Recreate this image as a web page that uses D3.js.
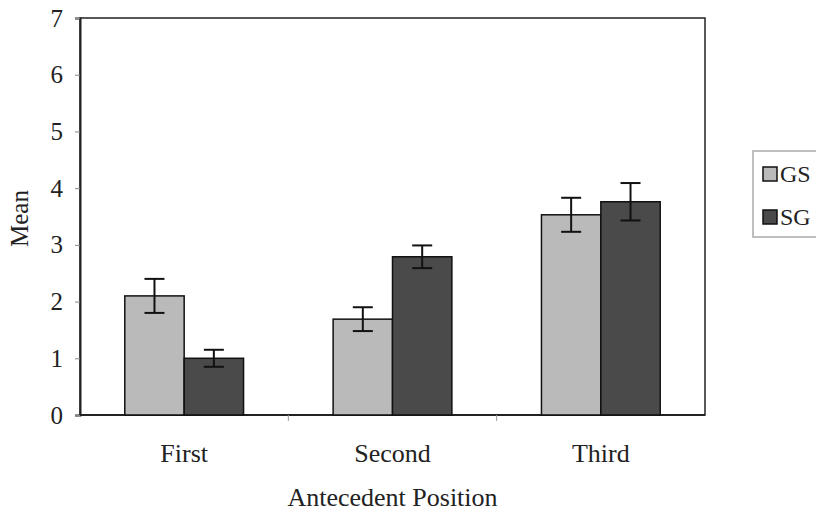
<!DOCTYPE html>
<html>
<head>
<meta charset="utf-8">
<script src="https://cdn.jsdelivr.net/npm/d3@7"></script>
<style>
  body { margin: 0; background: #fff; }
  text { font-family: "Liberation Serif", "DejaVu Serif", serif; fill: #222; }
</style>
</head>
<body>
<div id="vizcont"></div>
<script>
// chart data
var categories = ["First", "Second", "Third"];
var seriesNames = ["GS", "SG"];
var gsMeans = [2.1, 1.69, 3.53];
var gsErr = [0.3, 0.21, 0.3];
var sgMeans = [1.0, 2.79, 3.76];
var sgErr = [0.15, 0.2, 0.33];
var yTicks = [0, 1, 2, 3, 4, 5, 6, 7];
var colors = ["#bababa", "#4a4a4a"];

function draw_bars() {
  var W = 816, H = 515;
  var margin = {top: 18, right: 111, bottom: 100, left: 80};
  var width = W - margin.left - margin.right;
  var height = H - margin.top - margin.bottom;

  var svg = d3.select("#vizcont")
    .append("svg")
    .attr("width", W)
    .attr("height", H);

  var g = svg.append("g")
    .attr("transform", "translate(" + margin.left + "," + margin.top + ")");

  // rows for the grouped bars
  var rows = categories.map(function(c, i) {
    return {cat: c, vals: [
      {s: "GS", v: gsMeans[i], e: gsErr[i]},
      {s: "SG", v: sgMeans[i], e: sgErr[i]}
    ]};
  });

  var x = d3.scaleBand().domain(categories).range([0, width])
    .paddingInner(0.43).paddingOuter(0.215);
  var xs = d3.scaleBand().domain(seriesNames).range([0, x.bandwidth()]);
  var y = d3.scaleLinear().domain([0, 7]).range([height, 0]);
  var color = d3.scaleOrdinal().domain(seriesNames).range(colors);

  // plot frame
  g.append("rect")
    .attr("x", 0).attr("y", 0)
    .attr("width", width).attr("height", height)
    .attr("fill", "none").attr("stroke", "#222").attr("stroke-width", 1.5);

  // y axis
  var yAxis = g.append("g")
    .call(d3.axisLeft(y).tickValues(yTicks).tickSize(5).tickPadding(12).tickFormat(d3.format("d")));
  yAxis.select(".domain").attr("stroke", "#222").attr("stroke-width", 2);
  yAxis.selectAll(".tick line").attr("stroke", "#888");
  yAxis.selectAll("text").style("font-size", "25px").style("font-family", "Liberation Serif");

  // x axis: ticks between categories
  var xAxis = g.append("g").attr("transform", "translate(0," + height + ")");
  xAxis.append("line").attr("x1", 0).attr("x2", width)
    .attr("stroke", "#222").attr("stroke-width", 2);
  var bounds = [x.step() , x.step() * 2];
  xAxis.selectAll("line.sep").data(bounds).enter().append("line")
    .attr("class", "sep")
    .attr("x1", function(d) { return d; }).attr("x2", function(d) { return d; })
    .attr("y1", 0).attr("y2", 6).attr("stroke", "#999");
  xAxis.selectAll("text.cat").data(categories).enter().append("text")
    .attr("class", "cat")
    .attr("x", function(d) { return x(d) + x.bandwidth() / 2; })
    .attr("y", 47)
    .attr("text-anchor", "middle")
    .style("font-size", "26px")
    .text(function(d) { return d; });

  // bars
  var groups = g.selectAll("g.grp").data(rows).enter().append("g")
    .attr("class", "grp")
    .attr("transform", function(d) { return "translate(" + x(d.cat) + ",0)"; });

  groups.selectAll("rect").data(function(d) { return d.vals; }).enter().append("rect")
    .attr("x", function(d) { return xs(d.s); })
    .attr("y", function(d) { return y(d.v); })
    .attr("width", xs.bandwidth())
    .attr("height", function(d) { return height - y(d.v); })
    .attr("fill", function(d) { return color(d.s); })
    .attr("stroke", "#111").attr("stroke-width", 1.5);

  // error bars
  var capW = 10;
  var eb = groups.selectAll("g.err").data(function(d) { return d.vals; }).enter().append("g")
    .attr("class", "err")
    .attr("stroke", "#111").attr("stroke-width", 2);
  eb.append("line")
    .attr("x1", function(d) { return xs(d.s) + xs.bandwidth() / 2; })
    .attr("x2", function(d) { return xs(d.s) + xs.bandwidth() / 2; })
    .attr("y1", function(d) { return y(d.v + d.e); })
    .attr("y2", function(d) { return y(d.v - d.e); });
  eb.append("line")
    .attr("x1", function(d) { return xs(d.s) + xs.bandwidth() / 2 - capW; })
    .attr("x2", function(d) { return xs(d.s) + xs.bandwidth() / 2 + capW; })
    .attr("y1", function(d) { return y(d.v + d.e); })
    .attr("y2", function(d) { return y(d.v + d.e); });
  eb.append("line")
    .attr("x1", function(d) { return xs(d.s) + xs.bandwidth() / 2 - capW; })
    .attr("x2", function(d) { return xs(d.s) + xs.bandwidth() / 2 + capW; })
    .attr("y1", function(d) { return y(d.v - d.e); })
    .attr("y2", function(d) { return y(d.v - d.e); });

  // axis titles
  svg.append("text")
    .attr("transform", "translate(28," + (margin.top + height / 2 + 2) + ") rotate(-90)")
    .attr("text-anchor", "middle")
    .style("font-size", "25px")
    .text("Mean");
  svg.append("text")
    .attr("x", margin.left + width / 2)
    .attr("y", 506)
    .attr("text-anchor", "middle")
    .style("font-size", "26px")
    .text("Antecedent Position");

  // legend
  var lg = svg.append("g").attr("transform", "translate(753,151)");
  lg.append("rect").attr("width", 80).attr("height", 86)
    .attr("fill", "#fff").attr("stroke", "#aaa").attr("stroke-width", 1.5);
  var li = lg.selectAll("g.li").data(seriesNames).enter().append("g")
    .attr("class", "li")
    .attr("transform", function(d, i) { return "translate(10," + (16 + i * 43) + ")"; });
  li.append("rect").attr("width", 14).attr("height", 14)
    .attr("fill", function(d) { return color(d); })
    .attr("stroke", "#111").attr("stroke-width", 1.5);
  li.append("text").attr("x", 17).attr("y", 15)
    .style("font-size", "24px")
    .text(function(d) { return d; });
}
draw_bars();
</script>
</body>
</html>
